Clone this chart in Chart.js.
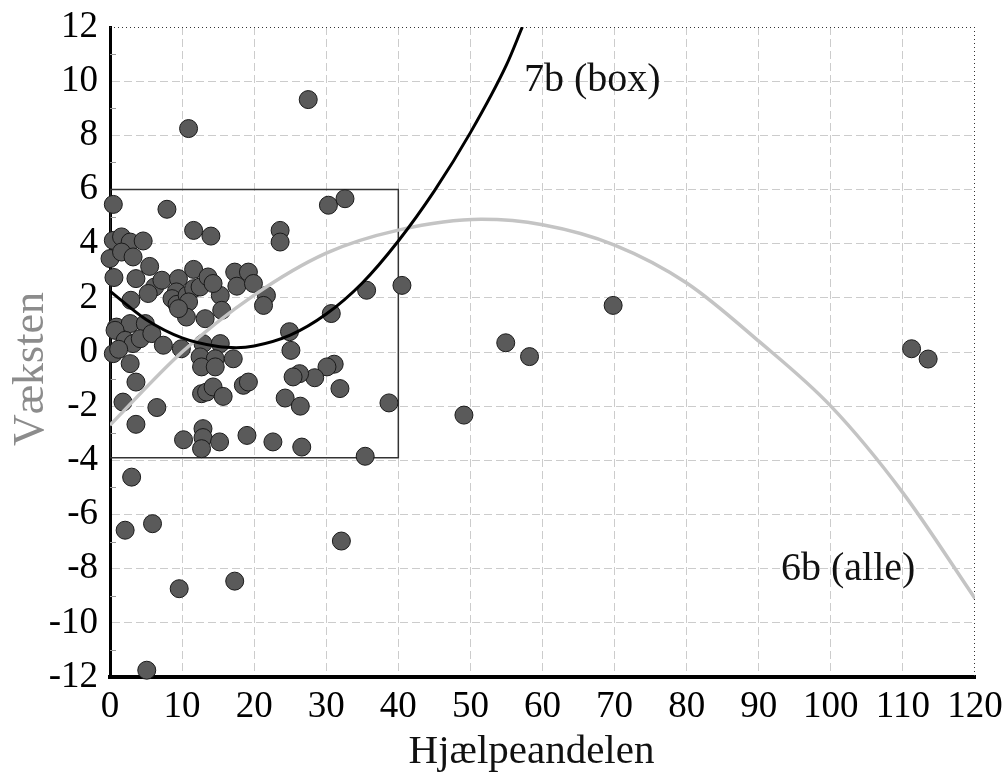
<!DOCTYPE html>
<html>
<head>
<meta charset="utf-8">
<script src="https://cdn.jsdelivr.net/npm/chart.js@4.4.1/dist/chart.umd.min.js"></script>
<style>
  html, body { margin: 0; padding: 0; background: #fff; }
  #wrap { width: 1008px; height: 774px; }
</style>
</head>
<body>
<div id="wrap"><canvas id="vaekstChart" width="1008" height="774"></canvas></div>
<script>
// Hjælpeandel (x) og vækst (y) for hvert punkt
const hjaelpeandel = [
  10.9, 27.5, 0.46, 7.9, 11.6, 14.0, 23.6, 23.6, 30.3, 32.6,
  40.5, 35.6, 30.7, 24.9, 25.1, 0.46, 1.6, 2.8, 4.6, 0.0,
  1.6, 3.2, 5.5, 0.55, 3.6, 6.2, 7.2, 5.3, 9.5, 11.6,
  9.2, 8.6, 9.3, 10.7, 11.6, 10.9, 12.5, 13.6, 15.3, 14.3,
  17.3, 19.2, 17.6, 19.9, 21.7, 21.3, 15.5, 13.2, 10.6, 9.5,
  2.9, 0.9, 2.8, 4.9, 0.7, 2.1, 3.2, 4.2, 5.8, 7.4,
  9.9, 0.46, 1.2, 2.8, 3.6, 1.8, 6.5, 3.6, 12.9, 15.3,
  12.5, 14.6, 17.1, 12.7, 14.6, 12.7, 13.4, 14.3, 15.7, 18.5,
  19.2, 10.2, 12.9, 12.9, 12.7, 15.2, 19.0, 22.6, 26.6, 35.4,
  38.7, 31.9, 31.1, 30.1, 28.4, 26.3, 25.4, 24.3, 26.4, 3.0,
  2.1, 5.9, 9.6, 17.3, 32.1, 5.1, 49.1, 54.9, 58.2, 69.8,
  111.2, 113.5
];
const vaekst = [
  8.25, 9.32, 5.45, 5.27, 4.49, 4.28, 4.49, 4.06, 5.42, 5.66,
  2.46, 2.28, 1.42, 0.75, 0.06, 4.12, 4.25, 4.06, 4.1, 3.45,
  3.69, 3.51, 3.16, 2.75, 2.71, 2.4, 2.65, 2.16, 2.71, 3.05,
  2.22, 1.97, 1.76, 2.09, 2.34, 1.85, 2.4, 2.77, 2.09, 2.53,
  2.95, 2.95, 2.43, 2.53, 2.09, 1.72, 1.54, 1.23, 1.29, 1.6,
  1.91, 0.92, 1.05, 1.05, 0.8, 0.43, 0.31, 0.49, 0.68, 0.25,
  0.12, -0.06, 0.1, -0.43, -1.11, -1.85, -2.05, -2.67, 0.31, 0.31,
  -0.18, -0.25, -0.25, -0.55, -0.55, -1.54, -1.48, -1.29, -1.64, -1.23,
  -1.11, -3.24, -2.83, -3.16, -3.57, -3.32, -3.08, -3.32, -3.51, -3.85,
  -1.88, -1.35, -0.45, -0.55, -0.95, -0.8, -0.92, -1.7, -2.0, -4.62,
  -6.58, -6.34, -8.74, -8.46, -6.98, -11.75, -2.33, 0.34, -0.17, 1.72,
  0.12, -0.26
];

// Tendenslinjer
const kurve7bX = [0, 5, 10, 15, 17.5, 20, 25, 30, 35, 40, 45, 50, 55, 57.2];
const kurve7bY = [2.25, 1.2, 0.52, 0.2, 0.16, 0.22, 0.62, 1.4, 2.55, 4.1, 5.95, 8.1, 10.6, 12];
const kurve6bX = [0, 10, 20, 30, 40, 51.5, 60, 70, 80, 90, 100, 110, 120];
const kurve6bY = [-2.7, 0.0, 2.1, 3.65, 4.5, 4.9, 4.7, 3.95, 2.55, 0.4, -2.0, -5.2, -9.1];

// Boksen omkring hovedgruppen
const boksX = [0, 40, 40, 0, 0];
const boksY = [6, 6, -3.9, -3.9, 6];

// Tekster i plottet (grundlinjen ligger ved y)
const etiketter = ['7b (box)', '6b (alle)'];
const etiketX = [66.9, 102.4];
const etiketY = [9.64, -8.43];

const xTitel = 'Hjælpeandelen';
const yTitel = 'Væksten';

const toXY = (xs, ys) => xs.map((x, i) => ({ x: x, y: ys[i] }));
const serif = '"Liberation Serif", "DejaVu Serif", serif';

// stiplet ramme top/højre, små mellemstreger på y-aksen, tekster og aksetitler
const rammePlugin = {
  id: 'ramme',
  beforeDatasetsDraw(chart) {
    const { ctx, chartArea: a, scales: { y } } = chart;
    ctx.save();
    ctx.strokeStyle = '#333';
    ctx.lineWidth = 1;
    ctx.setLineDash([1, 3]);
    ctx.beginPath();
    ctx.moveTo(a.left, a.top + 0.5);
    ctx.lineTo(a.right, a.top + 0.5);
    ctx.moveTo(a.right - 0.5, a.top);
    ctx.lineTo(a.right - 0.5, a.bottom);
    ctx.stroke();
    ctx.setLineDash([]);
    ctx.strokeStyle = '#999';
    ctx.beginPath();
    for (let v = -11; v <= 11; v += 2) {
      const py = Math.round(y.getPixelForValue(v)) + 0.5;
      ctx.moveTo(a.left, py);
      ctx.lineTo(a.left + 6, py);
    }
    ctx.stroke();
    ctx.restore();
  },
  afterDraw(chart) {
    const { ctx, chartArea: a, scales: { x, y } } = chart;
    ctx.save();
    ctx.font = '40px ' + serif;
    ctx.fillStyle = '#111';
    ctx.textAlign = 'center';
    ctx.textBaseline = 'alphabetic';
    etiketter.forEach((t, i) => {
      ctx.fillText(t, x.getPixelForValue(etiketX[i]), y.getPixelForValue(etiketY[i]));
    });

    // x-titel
    ctx.font = '41px ' + serif;
    ctx.fillText(xTitel, (a.left + a.right) / 2 - 11, 763);

    // y-titel (grå, drejet)
    ctx.font = '44px ' + serif;
    ctx.fillStyle = '#8c8c8c';
    ctx.translate(42.5, (a.top + a.bottom) / 2 + 17);
    ctx.rotate(-Math.PI / 2);
    ctx.fillText(yTitel, 0, 0);
    ctx.restore();
  }
};

new Chart(document.getElementById('vaekstChart').getContext('2d'), {
  type: 'scatter',
  data: {
    datasets: [
      {
        label: '7b (box)',
        data: toXY(kurve7bX, kurve7bY),
        showLine: true,
        borderColor: '#000',
        borderWidth: 3,
        pointRadius: 0,
        cubicInterpolationMode: 'monotone',
        order: 0
      },
      {
        label: '6b (alle)',
        data: toXY(kurve6bX, kurve6bY),
        showLine: true,
        borderColor: '#c4c4c4',
        borderWidth: 3.5,
        pointRadius: 0,
        cubicInterpolationMode: 'monotone',
        order: 1
      },
      {
        label: 'Kommuner',
        data: toXY(hjaelpeandel, vaekst),
        backgroundColor: '#5a5a5a',
        borderColor: '#1a1a1a',
        borderWidth: 1,
        pointRadius: 9,
        clip: false,
        order: 2
      },
      {
        label: 'Boks',
        data: toXY(boksX, boksY),
        showLine: true,
        borderColor: '#333',
        borderWidth: 1.5,
        pointRadius: 0,
        tension: 0,
        order: 3
      }
    ]
  },
  options: {
    responsive: false,
    animation: false,
    layout: { padding: { top: 27, right: 33, left: 0, bottom: 0 } },
    plugins: {
      legend: { display: false },
      tooltip: { enabled: false }
    },
    scales: {
      x: {
        type: 'linear',
        min: 0,
        max: 120,
        afterFit: s => { s.height = 97; s.paddingLeft = 0; s.paddingRight = 0; },
        ticks: { stepSize: 10, padding: 8, color: '#000', font: { family: serif, size: 37 } },
        grid: {
          drawTicks: false,
          color: c => (c.tick && c.tick.value === 120) ? 'rgba(0,0,0,0)' : '#cccccc',
          lineWidth: 1
        },
        border: { color: '#000', width: 4, dash: [8, 4] }
      },
      y: {
        type: 'linear',
        min: -12,
        max: 12,
        afterFit: s => { s.width = 110; s.paddingTop = 0; s.paddingBottom = 0; },
        ticks: { stepSize: 2, padding: 12, color: '#000', font: { family: serif, size: 37 } },
        grid: {
          drawTicks: false,
          color: c => (c.tick && c.tick.value === 12) ? 'rgba(0,0,0,0)' : '#cccccc',
          lineWidth: 1
        },
        border: { color: '#000', width: 3, dash: [8, 4] }
      }
    }
  },
  plugins: [rammePlugin]
});
</script>
</body>
</html>
